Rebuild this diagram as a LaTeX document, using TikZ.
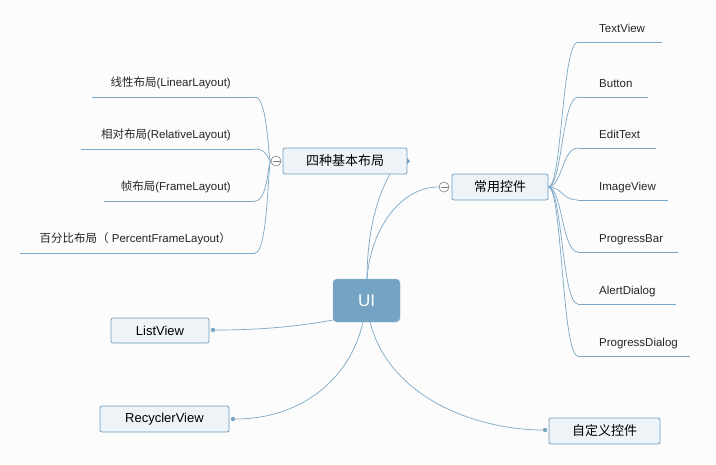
\documentclass[tikz,border=0pt]{standalone}
\usepackage{fontspec}
\setmainfont{Liberation Sans}
\newfontfamily\cjk{Noto Sans CJK SC}
\definecolor{ln}{HTML}{7BA7C7}
\definecolor{bd}{HTML}{6F9DC0}
\definecolor{bx}{HTML}{EEF3F8}
\definecolor{ctr}{HTML}{74A3C3}
\definecolor{bg}{HTML}{FCFCFC}
\begin{document}
\begin{tikzpicture}[x=1pt,y=-1pt,
  topic/.style={draw=bd,fill=bx,rounded corners=2pt,line width=0.8pt,inner sep=0pt,font=\fontsize{13}{15}\selectfont},
  leaf/.style={anchor=base west,inner sep=0pt,font=\fontsize{11.5}{13}\selectfont,text=black!85},
  con/.style={draw=ln,line width=0.7pt},
  knob/.style={circle,draw=gray,fill=white,minimum size=10pt,inner sep=0pt,line width=0.6pt},
  dot/.style={circle,fill=ln,minimum size=4.5pt,inner sep=0pt}]
\fill[bg] (0,0) rectangle (716,464);
\useasboundingbox (0,0) rectangle (716,464);
% central
\node[fill=ctr,draw=ctr!80!white,rounded corners=4pt,minimum width=67pt,minimum height=43pt,text=white,font=\fontsize{17}{19}\selectfont] (ui) at (366.5,300.5) {UI};
% topics
\node[topic,minimum width=124pt,minimum height=26pt] (lay) at (345,161) {\cjk 四种基本布局};
\node[topic,minimum width=96pt,minimum height=26pt] (ctl) at (500,187) {\cjk 常用控件};
\node[topic,minimum width=98pt,minimum height=25pt] (lv) at (160,330.5) {ListView};
\node[topic,minimum width=129pt,minimum height=26pt] (rv) at (164.5,419) {RecyclerView};
\node[topic,minimum width=111pt,minimum height=26pt] (cus) at (604.5,431) {\cjk 自定义控件};
\fill[bd] (407,158) -- (410,161) -- (407,164) -- cycle;
\node[knob] (k1) at (276,161) {};
\node[knob] (k2) at (444,187) {};
\draw[gray] (k1.west)++(2.2,0) -- ++(7.6,0);
\draw[gray] (k2.west)++(2.2,0) -- ++(7.6,0);
\node[dot] (d1) at (213,330) {};
\node[dot] (d2) at (233,419) {};
\node[dot] (d3) at (545,430) {};
% center connectors
\coordinate (u1) at (367,280);
\coordinate (lb) at (390,174);
\draw[con] (u1) .. controls (367,230) and (378,195) .. (lb);
\draw[con] (367,280) .. controls (370,230) and (400,187) .. (k2.west);
\draw[con] (ui.west |- 0,320) .. controls (290,328) and (250,330) .. (d1);
\draw[con] (363,322) .. controls (350,380) and (300,419) .. (d2);
\draw[con] (370,322) .. controls (390,400) and (480,430) .. (d3);
% left leaves
\foreach \n/\y/\xs/\t in {a/97/92/{{\cjk 线性布局}(LinearLayout)},
  b/149/81/{{\cjk 相对布局}(RelativeLayout)},
  c/201/104/{{\cjk 帧布局}(FrameLayout)},
  d/253/20/{{\cjk 百分比布局}{\cjk （} PercentFrameLayout{\cjk ）}}}{
  \coordinate (L\n) at (\xs,\y);
  \coordinate (E\n) at (255,\y);
  \draw[con] (L\n) -- (E\n);
  \node[leaf,anchor=base east] (T\n) at (231,\y-11) {\t};
  \draw[con] (E\n) .. controls (268,\y) and (268,161) .. (k1.west);
}
% right leaves
\foreach \n/\y/\xe/\t in {a/42/662/TextView,b/97/648/Button,c/148/656/EditText,d/200/668/ImageView,e/252/678/ProgressBar,f/304/676/AlertDialog,g/356/690/ProgressDialog}{
  \coordinate (R\n) at (578,\y);
  \coordinate (F\n) at (\xe,\y);
  \draw[con] (R\n) -- (F\n);
  \node[leaf] (U\n) at (599,\y-10) {\t};
  \draw[con] (ctl.east) .. controls (562,187) and (562,\y) .. (R\n);
}
\end{tikzpicture}
\end{document}
